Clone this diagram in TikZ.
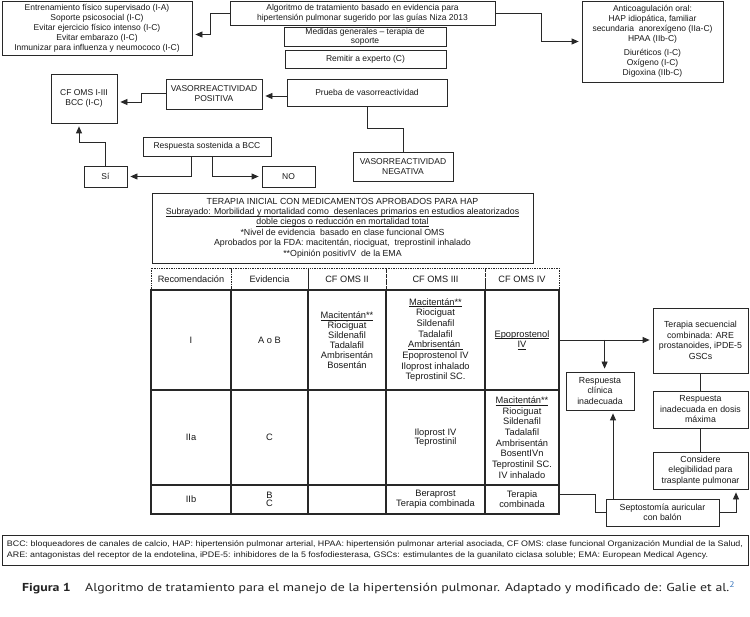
\documentclass[tikz,border=0pt]{standalone}
\usepackage{fontspec}
\setmainfont{Liberation Sans}
\newfontfamily\capfont{PT Sans}
\usetikzlibrary{arrows.meta,calc}
\definecolor{ink}{RGB}{25,25,25}
\definecolor{linec}{RGB}{40,40,40}
\definecolor{capblue}{RGB}{60,120,190}
\definecolor{capgray}{RGB}{35,35,35}
\newcommand\myul[1]{\setbox0\hbox{#1}\rlap{\rule[-1.7pt]{\wd0}{0.5pt}}\box0}
\begin{document}
\begin{tikzpicture}[x=1pt,y=-1pt,
  wh/.style 2 args={minimum width=#1pt,minimum height=#2pt},
  box/.style={draw=linec,line width=0.8pt,inner sep=0pt,align=center,text=ink,font=\fontsize{8.5}{10}\selectfont},
  cell/.style={draw=linec,line width=1.2pt,inner sep=0pt,align=center,text=ink,font=\fontsize{9.3}{10.7}\selectfont},
  hcell/.style={draw=linec,line width=0.7pt,dash pattern=on 0.8pt off 0.9pt,inner sep=0pt,align=center,text=ink,font=\fontsize{9.2}{10}\selectfont},
  arr/.style={draw=linec,line width=0.8pt,-{Triangle[length=7pt,width=6pt]},shorten >=3pt},
  ln/.style={draw=linec,line width=0.8pt},
]
\useasboundingbox[fill=white] (0,0) rectangle (750,617);

% top row
\node[box,wh={190}{54}] (gen) at (97,28) {Entrenamiento físico supervisado (I-A)\\Soporte psicosocial (I-C)\\Evitar ejercicio físico intenso (I-C)\\Evitar embarazo (I-C)\\Inmunizar para influenza y neumococo (I-C)};
\node[box,wh={265}{24}] (title) at (362.5,13) {Algoritmo de tratamiento basado en evidencia para\\hipertensión pulmonar sugerido por las guías Niza 2013};
\node[box,wh={141}{81}] (anti) at (652.5,41.5) {Anticoagulación oral:\\HAP idiopática, familiar\\secundaria\ \ anorexígeno (IIa-C)\\HPAA (IIb-C)\\[4pt]Diuréticos (I-C)\\Oxígeno (I-C)\\Digoxina (IIb-C)};
\node[box,wh={162}{19},font=\fontsize{8.5}{8.8}\selectfont] (med) at (365,36.5) {Medidas generales -- terapia de\\soporte};
\node[box,wh={161}{18}] (rem) at (365.5,59) {Remitir a experto (C)};

% vasoreactivity
\node[box,wh={160}{27}] (prueba) at (367,92.5) {Prueba de vasorreactividad};
\node[box,wh={96}{30}] (pos) at (214,94) {VASORREACTIVIDAD\\POSITIVA};
\node[box,wh={66}{49}] (cf) at (84,98.5) {CF OMS I-III\\BCC (I-C)};
\node[box,wh={128}{19}] (resp) at (207,146.5) {Respuesta sostenida a BCC};
\node[box,wh={43}{21}] (si) at (105.5,176.5) {Sí};
\node[box,wh={53}{21}] (no) at (288.5,176.5) {NO};
\node[box,wh={100}{29}] (neg) at (403,166.5) {VASORREACTIVIDAD\\NEGATIVA};

% initial therapy box
\node[box,wh={381}{70},font=\fontsize{8.8}{10.4}\selectfont] (ter) at (342.5,228) {TERAPIA INICIAL CON MEDICAMENTOS APROBADOS PARA HAP\\
\myul{Subrayado: Morbilidad y mortalidad como\ \ desenlaces primarios en estudios aleatorizados}\\
\myul{doble ciegos o reducción en mortalidad total}\\
*Nivel de evidencia\ \ basado en clase funcional OMS\\
Aprobados por la FDA: macitentán, riociguat,\ \ treprostinil inhalado\\
**Opinión positivIV\ \ de la EMA};

% table header
\node[hcell,wh={80}{22}] (h1) at (191,279) {Recomendación};
\node[hcell,wh={77}{22}] (h2) at (269.5,279) {Evidencia};
\node[hcell,wh={78}{22}] (h3) at (347,279) {CF OMS II};
\node[hcell,wh={99}{22}] (h4) at (435.5,279) {CF OMS III};
\node[hcell,wh={74}{22}] (h5) at (522,279) {CF OMS IV};

% row I
\node[cell,wh={80}{100}] (a1) at (191,340) {I};
\node[cell,wh={77}{100}] (a2) at (269.5,340) {A o B};
\node[cell,wh={78}{100},font=\fontsize{9.3}{10}\selectfont] (a3) at (347,340) {\myul{Macitentán**}\\Riociguat\\Sildenafil\\Tadalafil\\Ambrisentán\\Bosentán};
\node[cell,wh={99}{100}] (a4) at (435.5,340) {\myul{Macitentán**}\\Riociguat\\Sildenafil\\Tadalafil\\\myul{Ambrisentán\ }\\Epoprostenol IV\\Iloprost inhalado\\Teprostinil SC.};
\node[cell,wh={74}{100}] (a5) at (522,340) {\myul{Epoprostenol}\\\myul{IV}};

% row IIa
\node[cell,wh={80}{95}] (b1) at (191,437.5) {IIa};
\node[cell,wh={77}{95}] (b2) at (269.5,437.5) {C};
\node[cell,wh={78}{95}] (b3) at (347,437.5) {};
\node[cell,wh={99}{95},font=\fontsize{9.3}{9.5}\selectfont] (b4) at (435.5,437.5) {Iloprost IV\\Teprostinil};
\node[cell,wh={74}{95}] (b5) at (522,437.5) {\myul{Macitentán**}\\Riociguat\\Sildenafil\\Tadalafil\\Ambrisentán\\BosentIVn\\Teprostinil SC.\\IV inhalado};

% row IIb
\node[cell,wh={80}{29},font=\fontsize{9.3}{9}\selectfont] (c1) at (191,499.5) {IIb};
\node[cell,wh={77}{29},font=\fontsize{9.3}{8.5}\selectfont] (c2) at (269.5,499.5) {B\\C};
\node[cell,wh={78}{29}] (c3) at (347,499.5) {};
\node[cell,wh={99}{29},font=\fontsize{9.3}{9.5}\selectfont] (c4) at (435.5,499.5) {Beraprost\\Terapia combinada};
\node[cell,wh={74}{29},font=\fontsize{9.3}{10}\selectfont] (c5) at (522,499.5) {Terapia\\combinada};

% right side
\node[box,wh={95}{65},font=\fontsize{8.8}{10.5}\selectfont] (seq) at (700.5,340.5) {Terapia secuencial\\combinada: ARE\\prostanoides, iPDE-5\\GSCs};
\node[box,wh={95}{37},font=\fontsize{8.8}{10.5}\selectfont] (inad) at (700.5,409.5) {Respuesta\\inadecuada en dosis\\máxima};
\node[box,wh={95}{37},font=\fontsize{8.8}{10.5}\selectfont] (cons) at (700.5,470.5) {Considere\\elegibilidad para\\trasplante pulmonar};
\node[box,wh={68}{38},font=\fontsize{8.8}{10.5}\selectfont] (rci) at (600,391) {Respuesta\\clínica\\inadecuada};
\node[box,wh={113}{27},font=\fontsize{8.8}{10.5}\selectfont] (sept) at (662.5,512.5) {Septostomía auricular\\con balón};

% footnote
\node[box,wh={746}{30}] (foot) at (375,550) {\resizebox{736pt}{\height}{\fontsize{8}{11}\selectfont\begin{tabular}{@{}l@{}}BCC: bloqueadores de canales de calcio, HAP: hipertensión pulmonar arterial, HPAA: hipertensión pulmonar arterial asociada, CF OMS: clase funcional Organización Mundial de la Salud,\\ARE: antagonistas del receptor de la endotelina, iPDE-5: inhibidores de la 5 fosfodiesterasa, GSCs: estimulantes de la guanilato ciclasa soluble; EMA: European Medical Agency.\end{tabular}}};

% caption
\node[anchor=west,inner sep=0pt,text=capgray] (cap) at (22,588) {\resizebox{713pt}{\height}{\capfont\fontsize{11.5}{13}\selectfont\textbf{Figura 1}\hspace{12pt}Algoritmo de tratamiento para el manejo de la hipertensión pulmonar. Adaptado y modificado de: Galie et al.\textsuperscript{\textcolor{capblue}{2}}}};

% connectors
\draw[arr] (title.west) -- ++(-19,0) |- ($(gen.east)+(0,6.5)$);
\draw[arr] (title.east) -- ++(46,0) |- (anti.west);
\draw[arr] ($(prueba.west)+(0,3.5)$) -- ($(pos.east)+(0,2)$);
\draw[arr] ($(pos.west)+(0,-1)$) -- ++(-24,0) |- ($(cf.east)+(0,3.5)$);
\draw[arr] ($(resp.south)+(-16,0)$) |- (si.east);
\draw[arr] ($(resp.south)+(5,0)$) |- (no.west);
\draw[arr] (si.north) -- ++(0,-23) -| ($(cf.south)+(-5,0)$);
\draw[ln] (prueba.south) -- ++(0,22.5) -| (neg.north);

\draw[arr] (a5.east) -- (seq.west |- a5.east);
\coordinate (br) at ($(a5.east)+(45,0)$);
\draw[arr] (br) -- (br |- rci.north);
\draw[ln] ($(c5.east)+(0,-5)$) -- ++(36,0) |- (sept.west);
\coordinate (sx) at ($(sept.north)+(-49.5,0)$);
\draw[arr] (sx) -- (sx |- rci.south);
\draw[arr] (sept.east) -| ($(cons.south)+(35.5,0)$);
\draw[ln] (seq.south) -- (inad.north);
\draw[ln] (inad.south) -- (cons.north);
\end{tikzpicture}
\end{document}
